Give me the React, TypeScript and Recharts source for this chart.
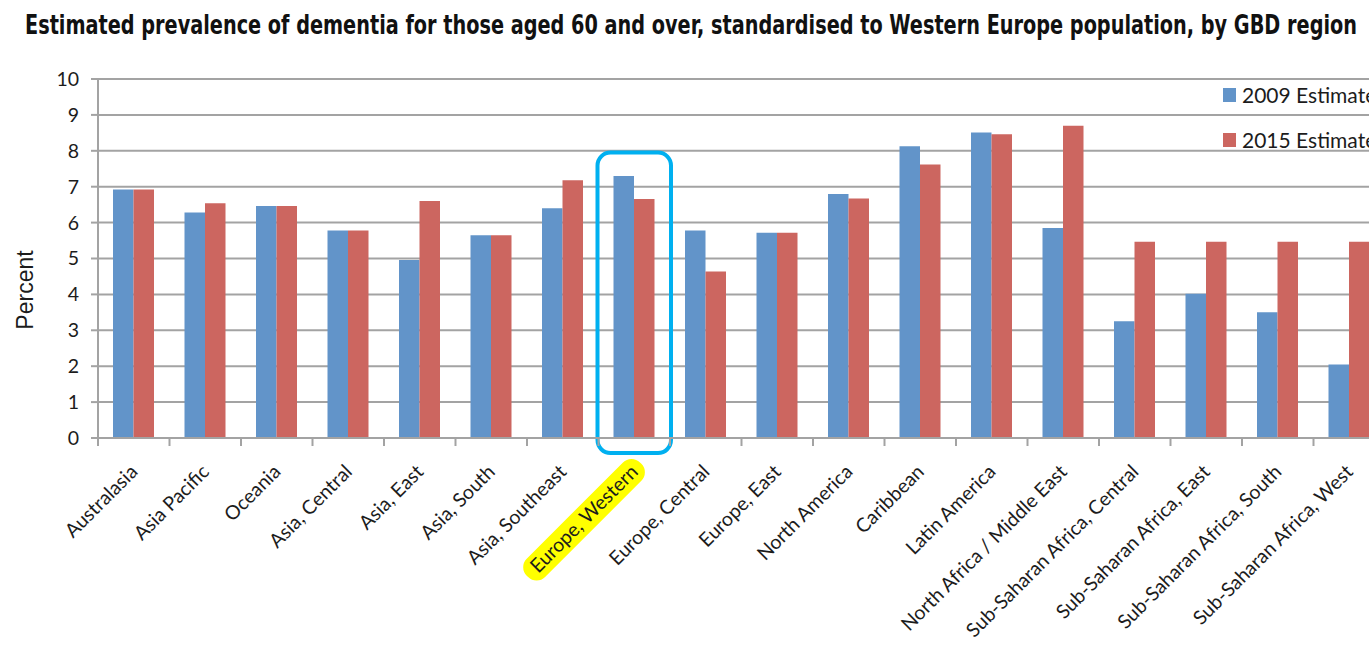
import React from "react";
import { Bar, BarChart, CartesianGrid, Legend, ReferenceArea, XAxis, YAxis } from "recharts";

const regions = [
  "Australasia",
  "Asia Pacific",
  "Oceania",
  "Asia, Central",
  "Asia, East",
  "Asia, South",
  "Asia, Southeast",
  "Europe, Western",
  "Europe, Central",
  "Europe, East",
  "North America",
  "Caribbean",
  "Latin America",
  "North Africa / Middle East",
  "Sub-Saharan Africa, Central",
  "Sub-Saharan Africa, East",
  "Sub-Saharan Africa, South",
  "Sub-Saharan Africa, West",
];
const est2009 = [6.92, 6.28, 6.46, 5.78, 4.96, 5.65, 6.4, 7.3, 5.78, 5.72, 6.8, 8.13, 8.51, 5.85, 3.25, 4.02, 3.5, 2.05];
const est2015 = [6.92, 6.54, 6.46, 5.78, 6.6, 5.65, 7.18, 6.66, 4.64, 5.72, 6.67, 7.62, 8.46, 8.7, 5.47, 5.47, 5.47, 5.47];
const yTicks = [0, 1, 2, 3, 4, 5, 6, 7, 8, 9, 10];
const highlighted = "Europe, Western";
// box around the highlighted group, in axis units
const boxTop = 7.95;
const boxBottom = -0.42;

const BLUE = "#6294c9";
const RED = "#cc6660";
const GRID = "#a3a3a3";
const TEXT = "#1c1c1c";
const LABEL_FONT = 19.5;

const data = regions.map((r, i) => ({ region: r, e2009: est2009[i], e2015: est2015[i] }));

function textWidth(s: string, font: string) {
  const c = document.createElement("canvas").getContext("2d");
  if (!c) return s.length * 9;
  c.font = font;
  return c.measureText(s).width;
}

function RegionTick(props: any) {
  const { x, y, payload } = props;
  const half = payload?.offset || 35.75;
  const label = String(payload.value);
  const hl = label === highlighted;
  const w = hl ? textWidth(label, `${LABEL_FONT}px Lato`) : 0;
  return (
    <g>
      <line x1={x - half} x2={x - half} y1={y - 8} y2={y} stroke={GRID} strokeWidth={2} />
      <g transform={`translate(${x + 5},${y + 27}) rotate(-45)`}>
        {hl && <rect x={-w - 9} y={-19} width={w + 17} height={26} rx={12} fill="#ffff00" />}
        <text textAnchor="end" fontSize={LABEL_FONT} fill={TEXT} fontFamily="Lato">
          {label}
        </text>
      </g>
    </g>
  );
}

function LegendBox() {
  const items = [
    { name: "2009 Estimate", color: BLUE },
    { name: "2015 Estimate", color: RED },
  ];
  return (
    <div style={{ fontFamily: "Lato", fontSize: 21, color: TEXT, whiteSpace: "nowrap" }}>
      {items.map((it) => (
        <div key={it.name} style={{ height: 45, display: "flex", alignItems: "center" }}>
          <span style={{ width: 13, height: 14, background: it.color, display: "inline-block", marginRight: 6 }} />
          {it.name}
        </div>
      ))}
    </div>
  );
}

export default function App() {
  return (
    <div
      style={{
        position: "fixed",
        left: 0,
        top: 0,
        width: 1369,
        height: 645,
        overflow: "hidden",
        background: "#fff",
        fontFamily: "Lato",
      }}
    >
      <svg width={1369} height={60} style={{ position: "absolute", left: 0, top: 0 }}>
        <text
          x={25}
          y={34}
          textLength={1332}
          lengthAdjust="spacingAndGlyphs"
          fontFamily="'Liberation Sans Narrow', 'DejaVu Sans Condensed', sans-serif"
          fontWeight="bold"
          fontSize={27}
          fill="#111"
        >
          Estimated prevalence of dementia for those aged 60 and over, standardised to Western Europe population, by GBD region
        </text>
      </svg>
      <div style={{ position: "absolute", left: 0, top: 0 }}>
        <BarChart
          width={1400}
          height={645}
          data={data}
          margin={{ top: 79, right: 15, bottom: 0, left: 0 }}
          barGap={0}
          barSize={20.5}
        >
          <CartesianGrid vertical={false} stroke={GRID} strokeWidth={2} />
          <XAxis
            dataKey="region"
            interval={0}
            height={207}
            tickSize={8}
            tickMargin={0}
            tickLine={false}
            axisLine={{ stroke: GRID, strokeWidth: 2 }}
            tick={<RegionTick />}
          />
          <YAxis
            width={98}
            domain={[0, 10]}
            ticks={yTicks}
            interval={0}
            tickSize={7}
            tickMargin={12}
            tickLine={{ stroke: GRID, strokeWidth: 2 }}
            axisLine={{ stroke: GRID, strokeWidth: 2 }}
            tick={{ fill: TEXT, fontSize: 19.5, fontFamily: "Lato" }}
            label={{
              content: () => (
                <text
                  transform="translate(33,290) rotate(-90)"
                  textAnchor="middle"
                  fontFamily="'Liberation Sans', Arial, sans-serif"
                  fontSize={23}
                  fill={TEXT}
                >
                  Percent
                </text>
              ),
            }}
          />
          <Legend
            layout="vertical"
            align="center"
            verticalAlign="middle"
            wrapperStyle={{ position: "absolute", left: 1223, top: 72, width: 200 }}
            content={() => <LegendBox />}
          />
          <Bar dataKey="e2009" name="2009 Estimate" fill={BLUE} isAnimationActive={false} />
          <Bar dataKey="e2015" name="2015 Estimate" fill={RED} isAnimationActive={false} />
          <ReferenceArea
            x1={highlighted}
            x2={highlighted}
            y1={boxBottom}
            y2={boxTop}
            ifOverflow="visible"
            shape={(p: any) => (
              <rect
                x={p.x - 1}
                y={p.y}
                width={p.width + 2}
                height={p.height}
                rx={13}
                fill="none"
                stroke="#00b0f0"
                strokeWidth={4}
              />
            )}
          />
        </BarChart>
      </div>
    </div>
  );
}
